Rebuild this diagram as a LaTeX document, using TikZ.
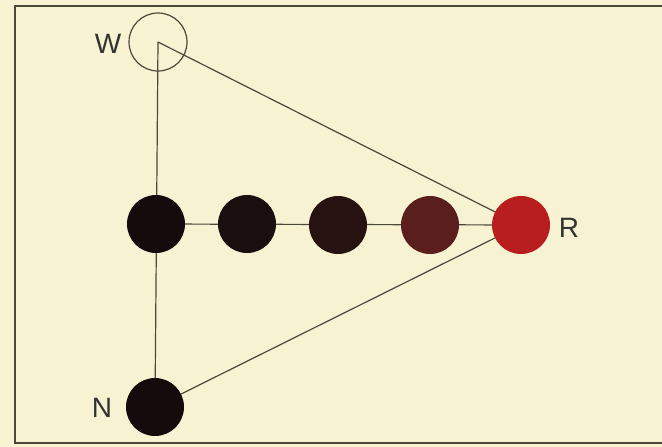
\documentclass[tikz,border=0pt]{standalone}
\usepackage{fontspec}
\setmainfont{Liberation Sans}
\definecolor{paper}{HTML}{F6F2D2}
\definecolor{ink}{HTML}{4A4838}
\definecolor{c1}{HTML}{140C0C}
\definecolor{c2}{HTML}{1A0E0E}
\definecolor{c3}{HTML}{261210}
\definecolor{c4}{HTML}{5A1E1C}
\definecolor{c5}{HTML}{B81E1E}
\tikzset{
  dot/.style={circle, minimum size=58pt, inner sep=0pt},
  lbl/.style={font=\fontsize{28}{28}\selectfont, text=black!80},
  link/.style={draw=ink, line width=1.2pt}
}
\begin{document}
\begin{tikzpicture}[x=1pt,y=-1pt]
\useasboundingbox (0,0) rectangle (662,447);
\clip (0,0) rectangle (662,447);
\fill[paper] (0,0) rectangle (662,447);
\draw[ink, line width=1.6pt] (700,6) -- (15,6) -- (15,443) -- (700,443);
\coordinate (Wc) at (158,42);
\coordinate (Nc) at (155,407);
\coordinate (Rc) at (521,225);
\coordinate (Ac) at (156,224);
\draw[link] (Wc) -- (Nc);
\draw[link] (Wc) -- (Rc);
\draw[link] (Nc) -- (Rc);
\draw[link] (Ac) -- (Rc);
\node[dot, draw=ink, line width=1.2pt] (W) at (Wc) {};
\node[dot, fill=c1] (A) at (Ac) {};
\node[dot, fill=c2] (B) at (247,224) {};
\node[dot, fill=c3] (C) at (338,225) {};
\node[dot, fill=c4] (D) at (430,225) {};
\node[dot, fill=c5] (R) at (Rc) {};
\node[dot, fill=c1] (N) at (Nc) {};
\node[lbl] (Wl) at (108,44) {W};
\node[lbl] (Rl) at (569,228) {R};
\node[lbl] (Nl) at (102,408) {N};
\end{tikzpicture}
\end{document}
